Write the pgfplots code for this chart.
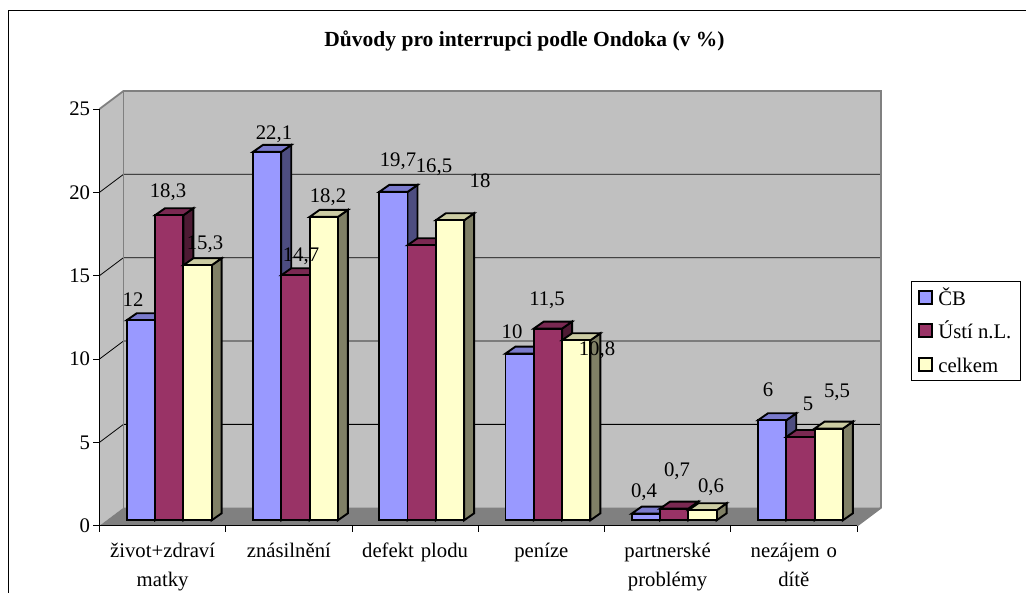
\documentclass[border=0pt]{standalone}
\usepackage{fontspec}
\setmainfont{Liberation Serif}
\usepackage{pgfplots}
\usepackage{pgfplotstable}
\pgfplotsset{compat=1.18}
\definecolor{wall}{HTML}{C0C0C0}
\definecolor{floorc}{HTML}{808080}
\definecolor{cbf}{HTML}{9999FF}\definecolor{cbt}{HTML}{7A7ACC}\definecolor{cbs}{HTML}{4D4D80}
\definecolor{usf}{HTML}{993366}\definecolor{ust}{HTML}{7A2952}\definecolor{uss}{HTML}{4D1A33}
\definecolor{cef}{HTML}{FFFFCC}\definecolor{cet}{HTML}{CCCCA3}\definecolor{ces}{HTML}{808066}
\newcommand{\fs}{\fontsize{20.8}{29}\selectfont}
\pgfplotstableread{
cb usti celkem
12 18.3 15.3
22.1 14.7 18.2
19.7 16.5 18
10 11.5 10.8
0.4 0.7 0.6
6 5 5.5
}\data
% side and top faces of one bar: centre, value, top colour, side colour
\newcommand{\faces}[4]{%
  \pgfmathsetmacro{\Lx}{#1-0.1121}%
  \pgfmathsetmacro{\Rx}{#1+0.1121}%
  \pgfmathsetmacro{\Ra}{\Rx+0.0792}%
  \pgfmathsetmacro{\La}{\Lx+0.0792}%
  \pgfmathsetmacro{\Va}{#2+0.42}%
  \addplot[forget plot,fill=#4,draw=black,line width=1.9bp,line join=miter] coordinates {(\Rx,0) (\Ra,0.42) (\Ra,\Va) (\Rx,#2)} --cycle;
  \addplot[forget plot,fill=#3,draw=black,line width=1.9bp,line join=miter] coordinates {(\Lx,#2) (\La,\Va) (\Ra,\Va) (\Rx,#2)} --cycle;
}
\newcommand{\lab}[3]{\node[font=\fs,inner sep=0pt] at (#1bp,{593bp-#2bp}) {#3};}
\pgfplotsset{swatch/.style={legend image code/.code={\draw[##1,draw=black,line width=1.9bp] (0bp,-6.5bp) rectangle (13bp,6.5bp);}}}
\begin{document}
\begin{tikzpicture}[x=1bp,y=1bp]
\useasboundingbox (0,0) rectangle (1026bp,593bp);
\draw[black,line width=1.1bp] (8.5bp,0bp) -- (8.5bp,582.5bp) -- (1026bp,582.5bp);
\begin{axis}[
  at={(99.5bp,67.3bp)},anchor=south west,
  scale only axis,width=757.5bp,height=416.7bp,
  xmin=0,xmax=6,ymin=-0.324,ymax=24.676,
  clip=false,axis on top=true,
  axis x line*=bottom,axis y line*=left,
  axis line style={black,line width=0.9bp,-},
  tick align=outside,tick style={black,line width=0.8bp},
  major tick length=6bp,
  xtick={0,1,2,3,4,5,6},xticklabels={},
  ytick={-0.324,4.676,9.676,14.676,19.676,24.676},
  yticklabels={0,5,10,15,20,25},
  extra x ticks={0.5,1.5,2.5,3.5,4.5,5.5},
  extra x tick labels={{život+zdraví\\matky},{znásilnění},{defekt plodu},{peníze},{partnerské\\problémy},{nezájem o\\dítě}},
  extra x tick style={major tick length=0pt,tick style={draw=none}},
  x tick label style={font=\fs,align=center,text width=125bp,anchor=north,yshift=-14bp},
  y tick label style={font=\fs},
  /pgf/number format/assume math mode=true,
  legend style={at={(1.0713,0.5872)},anchor=north west,draw=black,line width=0.8bp,font=\fs,
    fill=white,inner xsep=7bp,inner ysep=4.5bp,row sep=10bp,/tikz/every even column/.append style={column sep=8bp}},
  legend cell align=left,
]
% walls and floor
\fill[wall] (axis cs:0,-0.324) -- (axis cs:0.19,0.756) -- (axis cs:0.19,25.756) -- (axis cs:0,24.676) -- cycle;
\fill[wall] (axis cs:0.19,0.756) -- (axis cs:6.19,0.756) -- (axis cs:6.19,25.756) -- (axis cs:0.19,25.756) -- cycle;
\fill[floorc] (axis cs:0,-0.324) -- (axis cs:0.19,0.756) -- (axis cs:6.19,0.756) -- (axis cs:6,-0.324) -- cycle;
\foreach \g in {4.676,9.676,14.676,19.676}{
  \pgfmathsetmacro{\gb}{\g+1.08}
  \edef\tmp{\noexpand\draw[black,line width=0.8bp] (axis cs:0,\g) -- (axis cs:0.19,\gb) -- (axis cs:6.19,\gb);}\tmp
}
\draw[floorc,line width=1.8bp] (axis cs:0,24.676) -- (axis cs:0.19,25.756) -- (axis cs:6.19,25.756) -- (axis cs:6.19,0.756) -- (axis cs:6,-0.324);
\draw[floorc,line width=1.8bp] (axis cs:0.19,0.756) -- (axis cs:0.19,25.756);
% CB
\faces{0.3276}{12}{cbt}{cbs}\faces{1.3276}{22.1}{cbt}{cbs}\faces{2.3276}{19.7}{cbt}{cbs}
\faces{3.3276}{10}{cbt}{cbs}\faces{4.3276}{0.4}{cbt}{cbs}\faces{5.3276}{6}{cbt}{cbs}
\addplot[ybar,bar width=0.2242,bar shift=0pt,fill=cbf,draw=black,line width=1.9bp,swatch] table[x expr=\coordindex+0.3276,y=cb] {\data};
\addlegendentry{\hspace{3bp}\vphantom{Úg}ČB}
% Usti
\faces{0.5518}{18.3}{ust}{uss}\faces{1.5518}{14.7}{ust}{uss}\faces{2.5518}{16.5}{ust}{uss}
\faces{3.5518}{11.5}{ust}{uss}\faces{4.5518}{0.7}{ust}{uss}\faces{5.5518}{5}{ust}{uss}
\addplot[ybar,bar width=0.2242,bar shift=0pt,fill=usf,draw=black,line width=1.9bp,swatch] table[x expr=\coordindex+0.5518,y=usti] {\data};
\addlegendentry{\hspace{3bp}\vphantom{Úg}Ústí n.L.\hspace{8bp}}
% celkem
\faces{0.776}{15.3}{cet}{ces}\faces{1.776}{18.2}{cet}{ces}\faces{2.776}{18}{cet}{ces}
\faces{3.776}{10.8}{cet}{ces}\faces{4.776}{0.6}{cet}{ces}\faces{5.776}{5.5}{cet}{ces}
\addplot[ybar,bar width=0.2242,bar shift=0pt,fill=cef,draw=black,line width=1.9bp,swatch] table[x expr=\coordindex+0.776,y=celkem] {\data};
\addlegendentry{\hspace{3bp}\vphantom{Úg}celkem}
\end{axis}
\node[font=\bfseries\fontsize{21.6}{26}\selectfont,inner sep=0pt] at (524.5bp,{593bp-41bp}) {Důvody pro interrupci podle Ondoka (v \%)};
\lab{133}{300}{12}\lab{168}{192}{18,3}\lab{205}{244}{15,3}
\lab{274}{134}{22,1}\lab{301}{256}{14,7}\lab{328}{197}{18,2}
\lab{398}{161}{19,7}\lab{434}{167}{16,5}\lab{480}{181}{18}
\lab{512}{332}{10}\lab{547}{300}{11,5}\lab{597}{350}{10,8}
\lab{644}{492}{0,4}\lab{677}{471}{0,7}\lab{711}{487}{0,6}
\lab{768}{390}{6}\lab{808}{404}{5}\lab{837}{392}{5,5}
\end{tikzpicture}
\end{document}
